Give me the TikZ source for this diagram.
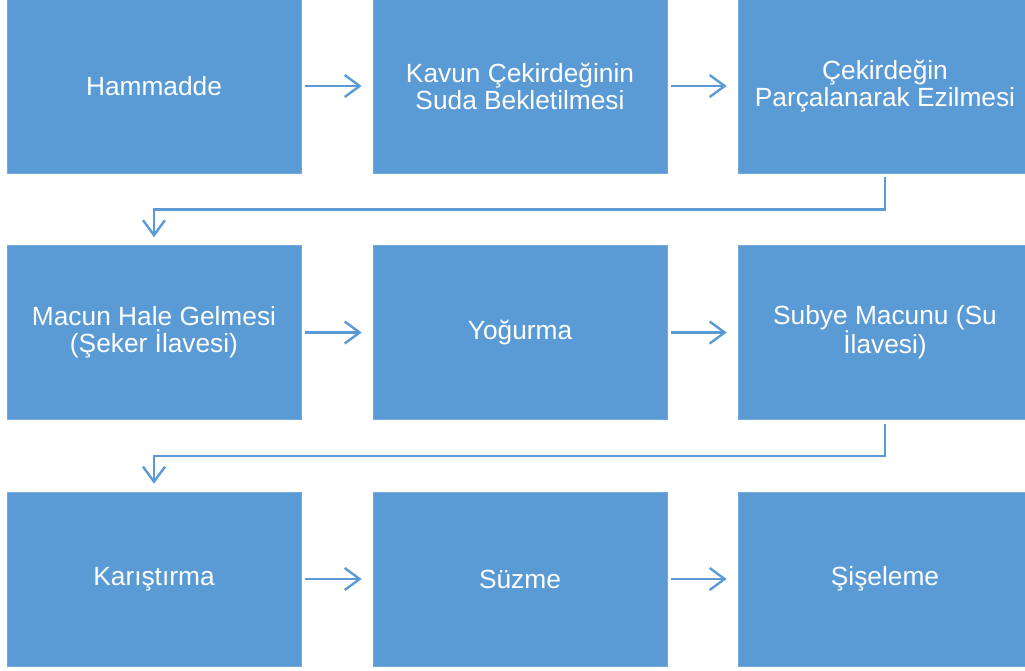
\documentclass[tikz,border=0pt]{standalone}
\usepackage{fontspec}
\setmainfont{Liberation Sans}
\usetikzlibrary{arrows.meta}
\definecolor{boxblue}{HTML}{5B9BD5}
\tikzset{
  stepbox/.style={fill=boxblue, draw=boxblue!85!white, line width=0.6pt, minimum width=294pt, minimum height=174pt, inner sep=0pt, text=white, align=center, font=\fontsize{26.3pt}{27pt}\selectfont},
  flow/.style={draw=boxblue, line width=2.4pt, -{Straight Barb[length=15pt,width=22pt,line width=2.4pt]}}
}
\begin{document}
\begin{tikzpicture}[x=1pt,y=-1pt]
\useasboundingbox (0,0) rectangle (1025,670);
\node[stepbox] (a1) at (154,86) {Hammadde};
\node[stepbox] (a2) at (520,86) {Kavun Çekirdeğinin\\Suda Bekletilmesi};
\node[stepbox] (a3) at (885,86) {Çekirdeğin\\Parçalanarak Ezilmesi};
\node[stepbox] (b1) at (154,332.5) {Macun Hale Gelmesi\\(Şeker İlavesi)};
\node[stepbox] (b2) at (520,332.5) {Yoğurma};
\node[stepbox] (b3) at (885,332.5) {Subye Macunu (Su\\İlavesi)};
\node[stepbox] (c1) at (154,579) {Karıştırma};
\node[stepbox] (c2) at (520,579) {Süzme};
\node[stepbox] (c3) at (885,579) {Şişeleme};
\draw[flow] ([xshift=4pt]a1.east) -- ([xshift=-11pt]a2.west);
\draw[flow] ([xshift=4pt]a2.east) -- ([xshift=-11pt]a3.west);
\draw[flow] ([xshift=4pt]b1.east) -- ([xshift=-11pt]b2.west);
\draw[flow] ([xshift=4pt]b2.east) -- ([xshift=-11pt]b3.west);
\draw[flow] ([xshift=4pt]c1.east) -- ([xshift=-11pt]c2.west);
\draw[flow] ([xshift=4pt]c2.east) -- ([xshift=-11pt]c3.west);
\draw[flow] ([yshift=-4pt]a3.south) -- ++(0,32) -| ([yshift=8pt]b1.north);
\draw[flow] ([yshift=-4pt]b3.south) -- ++(0,32) -| ([yshift=8pt]c1.north);
\end{tikzpicture}
\end{document}
